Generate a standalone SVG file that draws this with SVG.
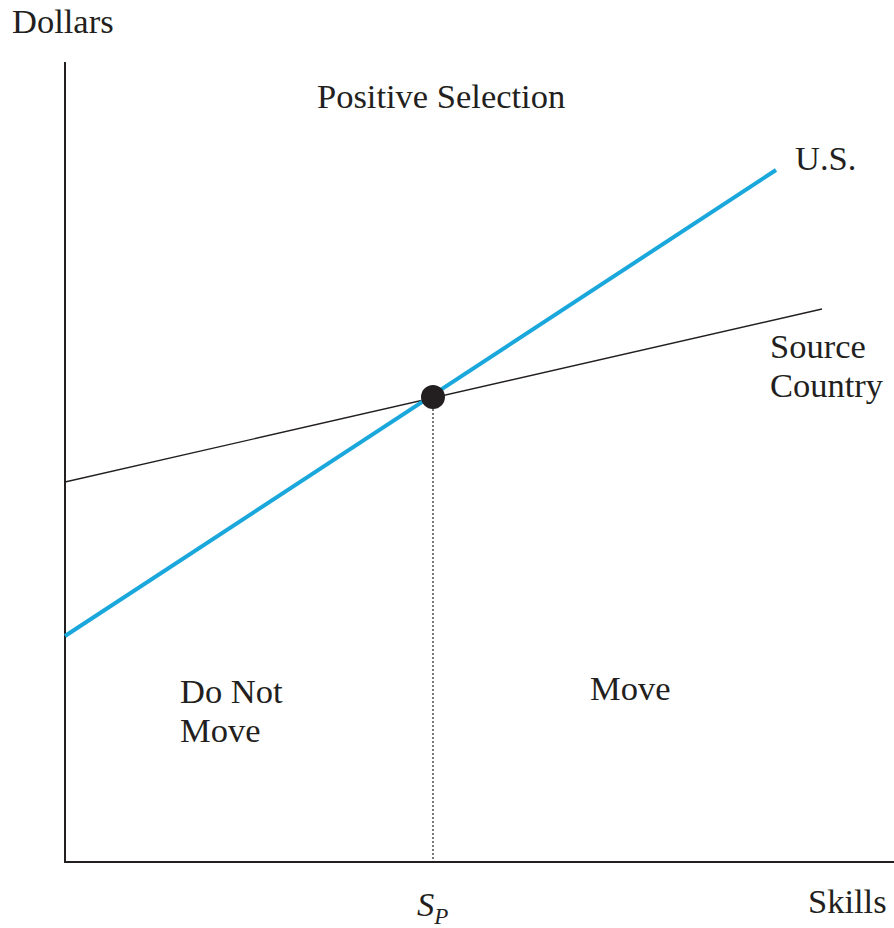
<svg xmlns="http://www.w3.org/2000/svg" width="894" height="928" viewBox="0 0 894 928">
<style>
.lbl{font-size:34.5px;fill:#231f20}
.axis{stroke:#231f20;stroke-width:2;fill:none}
</style>
<rect width="894" height="928" fill="#ffffff"/>
<g id="axes">
<line class="axis" x1="65" y1="62" x2="65" y2="862"/>
<line class="axis" x1="64" y1="862" x2="894" y2="862"/>
</g>
<g id="connectors">
<line x1="433" y1="397" x2="433" y2="861" stroke="#231f20" stroke-width="1.2" stroke-dasharray="2,2"/>
<line id="source-line" x1="65" y1="482" x2="822" y2="309" stroke="#231f20" stroke-width="1.4"/>
<line id="us-line" x1="65" y1="636" x2="776" y2="170" stroke="#1aa7dc" stroke-width="4"/>
</g>
<g id="intersection"><circle cx="433" cy="397" r="12" fill="#231f20"/></g>
<g id="labels" font-family="Liberation Serif, Times New Roman, serif">
<text class="lbl" x="12" y="33">Dollars</text>
<text class="lbl" x="317" y="108">Positive Selection</text>
<text class="lbl" x="795" y="170">U.S.</text>
<text class="lbl" x="770" y="358">Source</text>
<text class="lbl" x="770" y="397">Country</text>
<text class="lbl" x="180" y="703">Do Not</text>
<text class="lbl" x="180" y="742">Move</text>
<text class="lbl" x="590" y="700">Move</text>
<text class="lbl" x="417" y="916" font-style="italic">S<tspan font-size="23" dy="8">P</tspan></text>
<text class="lbl" x="808" y="913">Skills</text>
</g>
</svg>
